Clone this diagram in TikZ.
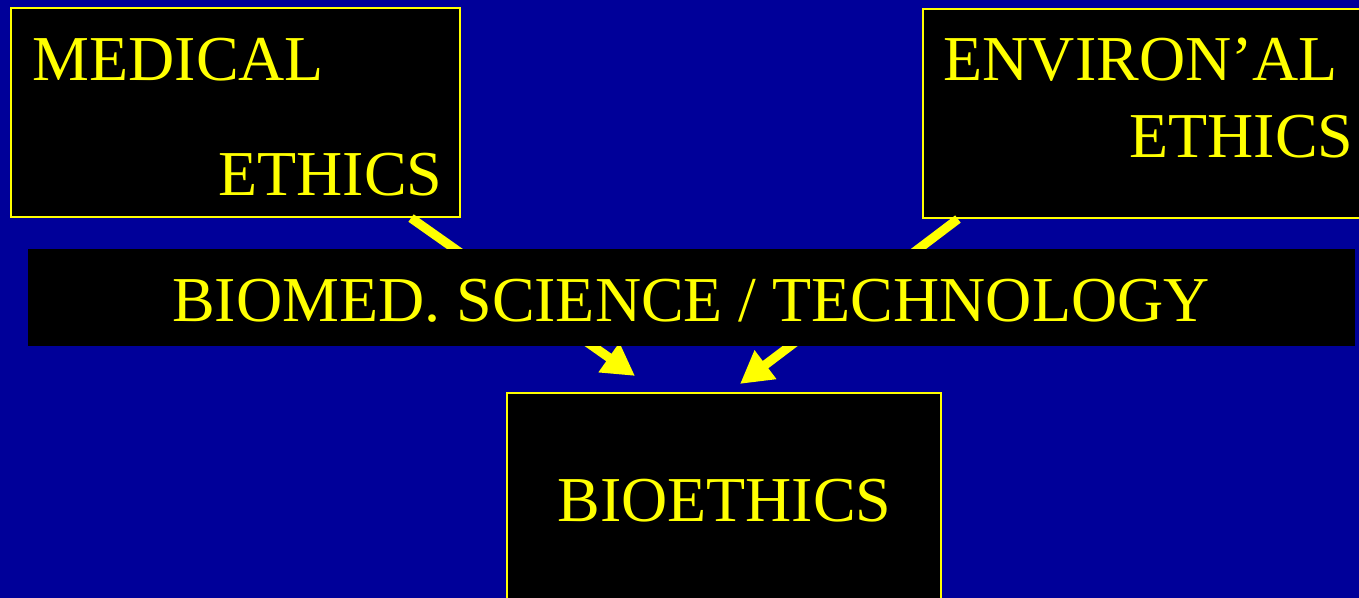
\documentclass[tikz,border=0pt]{standalone}
\usepackage{fontspec}
\setmainfont{Liberation Serif}
\usepackage{tikz}
\usetikzlibrary{arrows.meta}
\definecolor{slideblue}{RGB}{0,0,153}
\definecolor{slideyellow}{RGB}{255,255,0}
\tikzset{
    box/.style={rectangle, fill=black, draw=slideyellow, line width=.6pt,
    	inner sep=0pt}
}
\tikzset{
    band/.style={rectangle, fill=black, inner sep=0pt}
}
\tikzset{
    word/.style={inner sep=0pt, text=slideyellow,
    	font=\fontsize{18.2}{22}\selectfont}
}
\tikzset{
    link/.style={draw=slideyellow, line width=2.6pt,
    	-{Triangle[length=3.2mm, width=3.4mm]}}
}

\begin{document}
\begin{tikzpicture}
  \fill[slideblue] (0cm, 0cm) rectangle (13.59cm, 5.98cm);
  \useasboundingbox (0cm, 0cm) rectangle (13.59cm, 5.98cm);

  \node[box, minimum width=4.49cm, minimum height=2.09cm] (med) at (2.355cm, 4.855cm) {};
  \node[box, minimum width=4.57cm, minimum height=2.09cm] (env) at (11.515cm, 4.845cm) {};
  \node[box, minimum width=4.34cm, minimum height=2.27cm] (bio) at (7.24cm, 0.915cm) {};

  \coordinate (medfoot) at ([xshift=-.5cm]med.south east);
  \coordinate (envfoot) at ([xshift=.36cm]env.south west);
  \coordinate (biotipl) at ([xshift=-.89cm, yshift=.16cm]bio.north);
  \coordinate (biotipr) at ([xshift=.16cm, yshift=.08cm]bio.north);

  \draw[link] (medfoot) -- (biotipl);
  \draw[link] (envfoot) -- (biotipr);

  \node[band, minimum width=13.27cm, minimum height=.97cm] (tech) at (6.915cm, 3.005cm) {};

  \node[word, anchor=base west] (medtop) at (.32cm, 5.17cm) {MEDICAL};
  \node[word, anchor=base east] (medbot) at (4.43cm, 4.02cm) {ETHICS};
  \node[word, anchor=base west] (envtop) at (9.43cm, 5.17cm) {ENVIRON’AL};
  \node[word, anchor=base east] (envbot) at (13.54cm, 4.40cm) {ETHICS};
  \node[word, anchor=base] (techtext) at (6.91cm, 2.76cm) {BIOMED. SCIENCE / TECHNOLOGY};
  \node[word, anchor=base] (biotext) at (7.245cm, .76cm) {BIOETHICS};
\end{tikzpicture}
\end{document}
